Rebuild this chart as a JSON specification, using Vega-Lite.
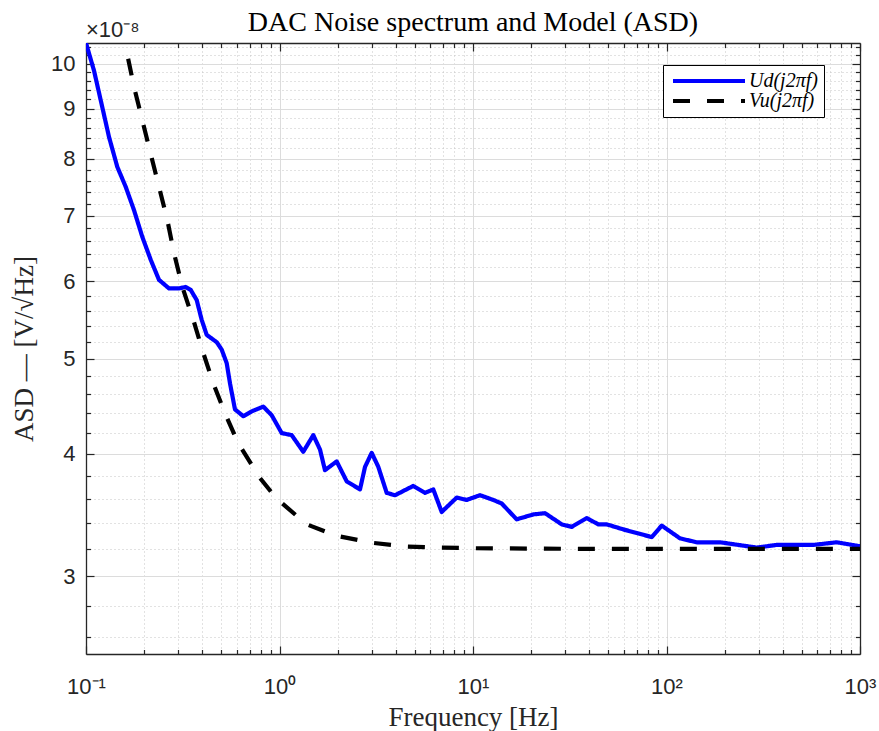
{
  "$schema": "https://vega.github.io/schema/vega-lite/v6.json",
  "width": 774,
  "height": 611,
  "autosize": {"type": "none"},
  "padding": {"left": 86, "top": 43, "right": 19, "bottom": 77},
  "background": "white",
  "config": {"view": {"stroke": null}},
  "title": {"text": "DAC Noise spectrum and Model (ASD)", "font": "Liberation Serif", "fontSize": 28, "fontWeight": "normal", "color": "black", "anchor": "middle", "frame": "group", "baseline": "alphabetic", "offset": -40},
  "datasets": {
    "curves": [
      {"series": "Ud(j2πf)", "f": 0.1, "asd": 10.5},
      {"series": "Ud(j2πf)", "f": 0.110, "asd": 9.84},
      {"series": "Ud(j2πf)", "f": 0.1214, "asd": 9.03},
      {"series": "Ud(j2πf)", "f": 0.1315, "asd": 8.42},
      {"series": "Ud(j2πf)", "f": 0.1451, "asd": 7.85},
      {"series": "Ud(j2πf)", "f": 0.1604, "asd": 7.49},
      {"series": "Ud(j2πf)", "f": 0.1771, "asd": 7.09},
      {"series": "Ud(j2πf)", "f": 0.1954, "asd": 6.66},
      {"series": "Ud(j2πf)", "f": 0.2160, "asd": 6.31},
      {"series": "Ud(j2πf)", "f": 0.2384, "asd": 6.02},
      {"series": "Ud(j2πf)", "f": 0.2686, "asd": 5.90},
      {"series": "Ud(j2πf)", "f": 0.3024, "asd": 5.90},
      {"series": "Ud(j2πf)", "f": 0.3275, "asd": 5.92},
      {"series": "Ud(j2πf)", "f": 0.3476, "asd": 5.88},
      {"series": "Ud(j2πf)", "f": 0.3734, "asd": 5.74},
      {"series": "Ud(j2πf)", "f": 0.3962, "asd": 5.48},
      {"series": "Ud(j2πf)", "f": 0.4205, "asd": 5.29},
      {"series": "Ud(j2πf)", "f": 0.4737, "asd": 5.20},
      {"series": "Ud(j2πf)", "f": 0.5027, "asd": 5.11},
      {"series": "Ud(j2πf)", "f": 0.5335, "asd": 4.95},
      {"series": "Ud(j2πf)", "f": 0.5549, "asd": 4.72},
      {"series": "Ud(j2πf)", "f": 0.5888, "asd": 4.44},
      {"series": "Ud(j2πf)", "f": 0.6501, "asd": 4.37},
      {"series": "Ud(j2πf)", "f": 0.7186, "asd": 4.42},
      {"series": "Ud(j2πf)", "f": 0.8247, "asd": 4.47},
      {"series": "Ud(j2πf)", "f": 0.9114, "asd": 4.38},
      {"series": "Ud(j2πf)", "f": 1.027, "asd": 4.20},
      {"series": "Ud(j2πf)", "f": 1.156, "asd": 4.18},
      {"series": "Ud(j2πf)", "f": 1.327, "asd": 4.02},
      {"series": "Ud(j2πf)", "f": 1.495, "asd": 4.18},
      {"series": "Ud(j2πf)", "f": 1.620, "asd": 4.04},
      {"series": "Ud(j2πf)", "f": 1.718, "asd": 3.85},
      {"series": "Ud(j2πf)", "f": 1.975, "asd": 3.93},
      {"series": "Ud(j2πf)", "f": 2.225, "asd": 3.75},
      {"series": "Ud(j2πf)", "f": 2.606, "asd": 3.68},
      {"series": "Ud(j2πf)", "f": 2.767, "asd": 3.88},
      {"series": "Ud(j2πf)", "f": 2.996, "asd": 4.01},
      {"series": "Ud(j2πf)", "f": 3.241, "asd": 3.88},
      {"series": "Ud(j2πf)", "f": 3.581, "asd": 3.65},
      {"series": "Ud(j2πf)", "f": 3.953, "asd": 3.63},
      {"series": "Ud(j2πf)", "f": 4.914, "asd": 3.71},
      {"series": "Ud(j2πf)", "f": 5.648, "asd": 3.65},
      {"series": "Ud(j2πf)", "f": 6.234, "asd": 3.68},
      {"series": "Ud(j2πf)", "f": 6.890, "asd": 3.49},
      {"series": "Ud(j2πf)", "f": 8.239, "asd": 3.61},
      {"series": "Ud(j2πf)", "f": 9.277, "asd": 3.59},
      {"series": "Ud(j2πf)", "f": 10.87, "asd": 3.63},
      {"series": "Ud(j2πf)", "f": 12.73, "asd": 3.59},
      {"series": "Ud(j2πf)", "f": 14.07, "asd": 3.56},
      {"series": "Ud(j2πf)", "f": 16.82, "asd": 3.43},
      {"series": "Ud(j2πf)", "f": 20.49, "asd": 3.47},
      {"series": "Ud(j2πf)", "f": 23.56, "asd": 3.48},
      {"series": "Ud(j2πf)", "f": 28.74, "asd": 3.39},
      {"series": "Ud(j2πf)", "f": 32.37, "asd": 3.37},
      {"series": "Ud(j2πf)", "f": 38.69, "asd": 3.44},
      {"series": "Ud(j2πf)", "f": 44.42, "asd": 3.39},
      {"series": "Ud(j2πf)", "f": 49.09, "asd": 3.39},
      {"series": "Ud(j2πf)", "f": 59.8, "asd": 3.35},
      {"series": "Ud(j2πf)", "f": 83.86, "asd": 3.29},
      {"series": "Ud(j2πf)", "f": 94.45, "asd": 3.38},
      {"series": "Ud(j2πf)", "f": 117.5, "asd": 3.28},
      {"series": "Ud(j2πf)", "f": 143.3, "asd": 3.25},
      {"series": "Ud(j2πf)", "f": 189.1, "asd": 3.25},
      {"series": "Ud(j2πf)", "f": 292.5, "asd": 3.21},
      {"series": "Ud(j2πf)", "f": 371.0, "asd": 3.23},
      {"series": "Ud(j2πf)", "f": 573.7, "asd": 3.23},
      {"series": "Ud(j2πf)", "f": 757.9, "asd": 3.25},
      {"series": "Ud(j2πf)", "f": 1000, "asd": 3.22},
      {"series": "Vu(j2πf)", "f": 0.1, "asd": 16.17},
      {"series": "Vu(j2πf)", "f": 0.125, "asd": 13.08},
      {"series": "Vu(j2πf)", "f": 0.1604, "asd": 10.40},
      {"series": "Vu(j2πf)", "f": 0.1771, "asd": 9.47},
      {"series": "Vu(j2πf)", "f": 0.1954, "asd": 8.76},
      {"series": "Vu(j2πf)", "f": 0.2160, "asd": 8.09},
      {"series": "Vu(j2πf)", "f": 0.2384, "asd": 7.49},
      {"series": "Vu(j2πf)", "f": 0.2632, "asd": 6.93},
      {"series": "Vu(j2πf)", "f": 0.2850, "asd": 6.41},
      {"series": "Vu(j2πf)", "f": 0.3147, "asd": 5.92},
      {"series": "Vu(j2πf)", "f": 0.3585, "asd": 5.48},
      {"series": "Vu(j2πf)", "f": 0.4038, "asd": 5.07},
      {"series": "Vu(j2πf)", "f": 0.4549, "asd": 4.72},
      {"series": "Vu(j2πf)", "f": 0.5229, "asd": 4.40},
      {"series": "Vu(j2πf)", "f": 0.6126, "asd": 4.10},
      {"series": "Vu(j2πf)", "f": 0.7929, "asd": 3.78},
      {"series": "Vu(j2πf)", "f": 0.9672, "asd": 3.60},
      {"series": "Vu(j2πf)", "f": 1.382, "asd": 3.39},
      {"series": "Vu(j2πf)", "f": 1.975, "asd": 3.30},
      {"series": "Vu(j2πf)", "f": 3.053, "asd": 3.245},
      {"series": "Vu(j2πf)", "f": 4.544, "asd": 3.218},
      {"series": "Vu(j2πf)", "f": 6.75, "asd": 3.21},
      {"series": "Vu(j2πf)", "f": 10, "asd": 3.205},
      {"series": "Vu(j2πf)", "f": 30, "asd": 3.201},
      {"series": "Vu(j2πf)", "f": 100, "asd": 3.2},
      {"series": "Vu(j2πf)", "f": 1000, "asd": 3.2}
    ],
    "note": [{"f": 0.1, "asd": 10.5, "label": "×10⁻⁸"}]
  },
  "layer": [
    {
      "data": {"name": "curves"},
      "mark": {"type": "line", "strokeWidth": 4.2, "clip": true, "strokeJoin": "round", "strokeCap": "butt"},
      "encoding": {
        "x": {
          "field": "f", "type": "quantitative",
          "scale": {"type": "log", "domain": [0.1, 1000], "nice": false},
          "axis": {
            "orient": "bottom",
            "title": "Frequency [Hz]",
            "titleFont": "Liberation Serif", "titleFontSize": 27, "titleFontWeight": "normal", "titleColor": "#262626", "titlePadding": 4,
            "values": [0.1,0.2,0.3,0.4,0.5,0.6,0.7,0.8,0.9,1,2,3,4,5,6,7,8,9,10,20,30,40,50,60,70,80,90,100,200,300,400,500,600,700,800,900,1000],
            "labelExpr": "datum.value == 0.1 ? '10⁻¹' : datum.value == 1 ? '10⁰' : datum.value == 10 ? '10¹' : datum.value == 100 ? '10²' : datum.value == 1000 ? '10³' : ''",
            "labelFont": "Liberation Sans", "labelFontSize": 22, "labelColor": "#262626", "labelPadding": 30, "labelBaseline": "top", "labelFlush": false, "labelOverlap": false,
            "domainColor": "#262626", "domainWidth": 1.3,
            "tickColor": "#262626", "tickWidth": 1.2,
            "tickSize": {"condition": {"test": "abs(log(datum.value)/LN10 - round(log(datum.value)/LN10)) < 0.001", "value": -8}, "value": -4.5},
            "grid": true,
            "gridColor": {"condition": {"test": "abs(log(datum.value)/LN10 - round(log(datum.value)/LN10)) < 0.001", "value": "#dcdcdc"}, "value": "#c4c4c4"},
            "gridDash": {"condition": {"test": "abs(log(datum.value)/LN10 - round(log(datum.value)/LN10)) < 0.001", "value": []}, "value": [1, 3]},
            "gridWidth": 1
          }
        },
        "y": {
          "field": "asd", "type": "quantitative",
          "scale": {"type": "log", "domain": [2.5, 10.5], "nice": false},
          "axis": {
            "orient": "left",
            "title": "ASD — [V/√Hz]",
            "titleFont": "Liberation Serif", "titleFontSize": 27, "titleFontWeight": "normal", "titleColor": "#262626", "titlePadding": 12,
            "values": [2.6,2.8,3,3.2,3.4,3.6,3.8,4,4.2,4.4,4.6,4.8,5,5.2,5.4,5.6,5.8,6,6.2,6.4,6.6,6.8,7,7.2,7.4,7.6,7.8,8,8.2,8.4,8.6,8.8,9,9.2,9.4,9.6,9.8,10,10.2,10.4],
            "labelExpr": "abs(datum.value - round(datum.value)) < 0.001 ? format(datum.value, 'd') : ''",
            "labelFont": "Liberation Sans", "labelFontSize": 22, "labelColor": "#262626", "labelPadding": 19, "labelFlush": false, "labelOverlap": false,
            "domainColor": "#262626", "domainWidth": 1.3,
            "tickColor": "#262626", "tickWidth": 1.2,
            "tickSize": {"condition": {"test": "abs(datum.value - round(datum.value)) < 0.001", "value": -8}, "value": -4.5},
            "grid": true,
            "gridColor": {"condition": {"test": "abs(datum.value - round(datum.value)) < 0.001", "value": "#dcdcdc"}, "value": "#c4c4c4"},
            "gridDash": {"condition": {"test": "abs(datum.value - round(datum.value)) < 0.001", "value": []}, "value": [1, 3]},
            "gridWidth": 1
          }
        },
        "color": {
          "field": "series", "type": "nominal",
          "scale": {"domain": ["Ud(j2πf)", "Vu(j2πf)"], "range": ["#0000ff", "#000000"]},
          "legend": {"title": null, "orient": "none", "legendX": 577, "legendY": 22, "fillColor": "white", "strokeColor": "#000000", "padding": 6, "symbolType": "M-1,0H11", "symbolSize": 144, "symbolStrokeWidth": 4, "labelFont": "Liberation Serif", "labelFontStyle": "italic", "labelFontSize": 20, "labelColor": "black", "labelOffset": 60, "rowPadding": 0}
        },
        "strokeDash": {
          "field": "series", "type": "nominal",
          "scale": {"domain": ["Ud(j2πf)", "Vu(j2πf)"], "range": [[1, 0], [17, 17]]},
          "legend": {"title": null, "orient": "none", "legendX": 577, "legendY": 22, "fillColor": "white", "strokeColor": "#000000", "padding": 6, "symbolType": "M-1,0H11", "symbolSize": 144, "symbolStrokeWidth": 4, "labelFont": "Liberation Serif", "labelFontStyle": "italic", "labelFontSize": 20, "labelColor": "black", "labelOffset": 60, "rowPadding": 0}
        }
      }
    },
    {
      "data": {"name": "note"},
      "mark": {"type": "text", "align": "left", "baseline": "alphabetic", "dy": -6, "dx": 0, "font": "Liberation Sans", "fontSize": 22, "color": "#262626"},
      "encoding": {
        "x": {
          "field": "f", "type": "quantitative",
          "axis": {
            "orient": "top", "title": null, "labels": false, "grid": false,
            "values": [0.1,0.2,0.3,0.4,0.5,0.6,0.7,0.8,0.9,1,2,3,4,5,6,7,8,9,10,20,30,40,50,60,70,80,90,100,200,300,400,500,600,700,800,900,1000],
            "domainColor": "#262626", "domainWidth": 1.3, "tickColor": "#262626", "tickWidth": 1.2,
            "tickSize": {"condition": {"test": "abs(log(datum.value)/LN10 - round(log(datum.value)/LN10)) < 0.001", "value": -8}, "value": -4.5}
          }
        },
        "y": {
          "field": "asd", "type": "quantitative",
          "axis": {
            "orient": "right", "title": null, "labels": false, "grid": false,
            "values": [2.6,2.8,3,3.2,3.4,3.6,3.8,4,4.2,4.4,4.6,4.8,5,5.2,5.4,5.6,5.8,6,6.2,6.4,6.6,6.8,7,7.2,7.4,7.6,7.8,8,8.2,8.4,8.6,8.8,9,9.2,9.4,9.6,9.8,10,10.2,10.4],
            "domainColor": "#262626", "domainWidth": 1.3, "tickColor": "#262626", "tickWidth": 1.2,
            "tickSize": {"condition": {"test": "abs(datum.value - round(datum.value)) < 0.001", "value": -8}, "value": -4.5}
          }
        },
        "text": {"field": "label"}
      }
    }
  ],
  "resolve": {"axis": {"x": "independent", "y": "independent"}}
}
